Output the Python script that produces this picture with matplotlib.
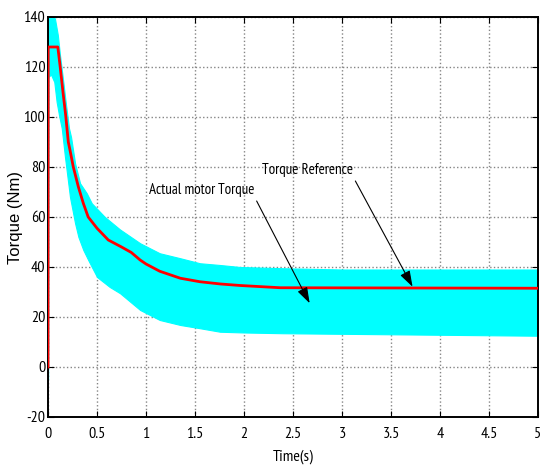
import matplotlib
matplotlib.use("Agg")
import matplotlib.pyplot as plt
from matplotlib import font_manager
import numpy as np

plt.rcParams["axes.unicode_minus"] = False

# ---- data ----
ref_t = [0, 0.002, 0.1, 0.122, 0.156, 0.18, 0.207, 0.224, 0.258, 0.31, 0.36, 0.41,
         0.5, 0.615, 0.75, 0.85, 0.94, 1.0, 1.14, 1.35, 1.55, 1.76, 1.96, 2.37, 5.0]
ref_v = [0, 128, 128, 120.8, 108.8, 100.8, 90, 86.8, 80, 72, 65.5, 60,
         55.5, 50.8, 48, 45.8, 42.8, 41.2, 38.3, 35.5, 34.1, 33.2, 32.6, 31.7, 31.5]

up_t = [0, 0.07, 0.1, 0.122, 0.156, 0.18, 0.214, 0.235, 0.276, 0.327, 0.395, 0.446,
        0.58, 0.735, 0.94, 1.14, 1.35, 1.55, 1.755, 1.96, 2.4, 3.0, 5.0]
up_v = [140, 139.5, 132.8, 124.8, 114, 106, 95.5, 92, 81.5, 73.5, 69.5, 65.5,
        60, 55, 49.5, 45.5, 43.5, 41.5, 40.8, 40, 39.5, 39, 39]

lo_t = [0, 0.004, 0.03, 0.064, 0.088, 0.112, 0.14, 0.173, 0.224, 0.276, 0.31, 0.36,
        0.41, 0.5, 0.63, 0.735, 0.94, 1.14, 1.35, 1.55, 1.755, 2.0, 2.4, 5.0]
lo_v = [-5, 116, 117, 114, 106, 100.8, 95.5, 84, 68, 57.5, 52, 46.8,
        42.8, 36, 32, 29.5, 22.8, 18.8, 16.8, 15.5, 14.1, 13.8, 13.5, 12.5]

x_ticks = [0, 0.5, 1, 1.5, 2, 2.5, 3, 3.5, 4, 4.5, 5]
x_labels = ["0", "0.5", "1", "1.5", "2", "2.5", "3", "3.5", "4", "4.5", "5"]
y_ticks = [-20, 0, 20, 40, 60, 80, 100, 120, 140]

names = {f.name for f in font_manager.fontManager.ttflist}
narrow = "DejaVu Sans"
for cand in ["Liberation Sans Narrow", "Arial Narrow", "PT Sans Narrow",
             "Archivo Narrow", "Roboto Condensed", "Pragati Narrow"]:
    if cand in names:
        narrow = cand
        break
regular = "Liberation Sans" if "Liberation Sans" in names else "DejaVu Sans"

fig = plt.figure(figsize=(5.42, 4.67), dpi=100)
ax = fig.add_axes([0.0886, 0.1071, 0.904, 0.8565])

# envelope of the actual torque (cyan band)
tt = np.union1d(up_t, lo_t)
ax.fill_between(tt, np.interp(tt, lo_t, lo_v), np.interp(tt, up_t, up_v),
                color="#00FFFF", linewidth=0.8, edgecolor="#00FFFF", zorder=2)
ax.plot(ref_t, ref_v, color="#FF0000", linewidth=2.0, zorder=3)

ax.set_xlim(0, 5)
ax.set_ylim(-20, 140)
ax.set_xticks(x_ticks)
ax.set_xticklabels(x_labels)
ax.set_yticks(y_ticks)
ax.grid(True, color="#858585", linestyle=":", linewidth=1.0, zorder=1)
ax.set_axisbelow(True)
ax.tick_params(direction="in", length=4, width=0.8, top=True, right=True,
               labelsize=11.5)
ax.tick_params(axis="x", pad=7)
ax.tick_params(axis="y", pad=2)
for lab in ax.get_xticklabels() + ax.get_yticklabels():
    lab.set_fontfamily(narrow)
for s in ax.spines.values():
    s.set_linewidth(1.4)
    s.set_color("black")

ax.set_xlabel("Time(s)", fontsize=11.5, fontfamily=narrow, labelpad=6)
ax.set_ylabel("Torque (Nm)", fontsize=12, fontfamily=regular)
ax.yaxis.set_label_coords(-0.051, 0.4975)

arrow = dict(arrowstyle="-|>,head_length=0.9,head_width=0.3",
             color="black", lw=0.8, shrinkA=1, shrinkB=0, relpos=(1.0, 0.0))
ax.annotate("Actual motor Torque", xy=(2.67, 25.5), xytext=(1.57, 70.8),
            fontsize=10.8, fontfamily=narrow, ha="center", va="center",
            arrowprops=arrow, zorder=5)
ax.annotate("Torque Reference", xy=(3.72, 32.1), xytext=(2.65, 78.8),
            fontsize=10.8, fontfamily=narrow, ha="center", va="center",
            arrowprops=arrow, zorder=5)

fig.savefig("out.png", dpi=100)
